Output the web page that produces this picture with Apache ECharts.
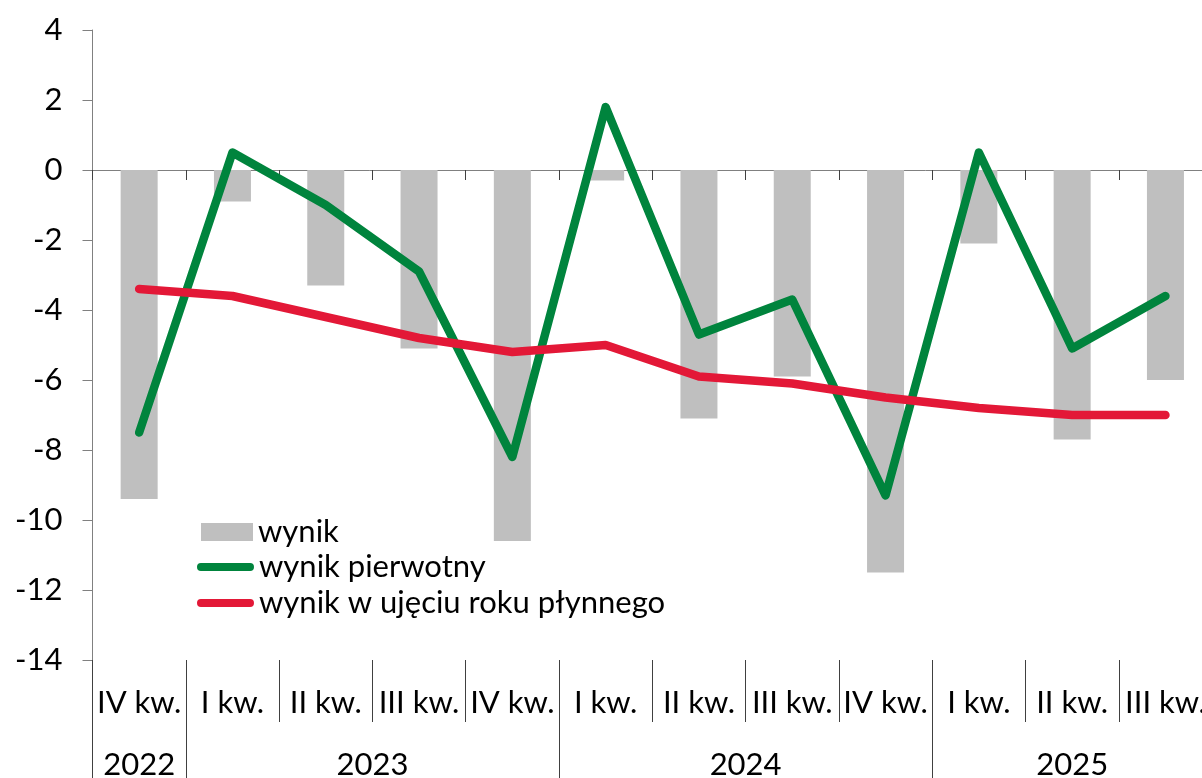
<!DOCTYPE html>
<html>
<head>
<meta charset="utf-8">
<script src="https://cdn.jsdelivr.net/npm/echarts@6/dist/echarts.min.js"></script>
<style>
    html, body { margin: 0; padding: 0; background: #fff; }
    #chart-1 { width: 1202px; height: 778px; }
</style>
</head>
<body>
<div id="chart-1"></div>
<script>
// kwartały i lata
var quarters = ['IV kw.', 'I kw.', 'II kw.', 'III kw.', 'IV kw.', 'I kw.', 'II kw.', 'III kw.', 'IV kw.', 'I kw.', 'II kw.', 'III kw.']
var years = ['2022', '2023', '2024', '2025']
var quartersPerYear = [1, 4, 4, 3]

// dane
var wynik = [-9.4, -0.9, -3.3, -5.1, -10.6, -0.3, -7.1, -5.9, -11.5, -2.1, -7.7, -6.0]
var wynikPierwotny = [-7.5, 0.5, -1.0, -2.9, -8.2, 1.8, -4.7, -3.7, -9.3, 0.5, -5.1, -3.6]
var wynikRoczny = [-3.4, -3.6, -4.2, -4.8, -5.2, -5.0, -5.9, -6.1, -6.5, -6.8, -7.0, -7.0]

var yTicks = [-14, -12, -10, -8, -6, -4, -2, 0, 2, 4]

var font = 'Lato'
var fontSize = 31
var axisGray = '#808080'
var green = '#00843D'
var red = '#E31837'
// zaokrąglona kreska do legendy
var lineIcon = 'path://M4,0 H54 A4,4 0 0 1 54,8 H4 A4,4 0 0 1 4,0 Z'

// granice lat i środki etykiet lat
var yearBounds = [0]
var yearCenters = []
var acc = 0
for (var i = 0; i < quartersPerYear.length; i++) {
    yearCenters.push(acc + quartersPerYear[i] / 2)
    acc += quartersPerYear[i]
    yearBounds.push(acc)
}

var gridLeft = 92.5
var gridWidth = 1119.6
var legendText = { fontFamily: font, fontSize: fontSize, color: '#000', lineHeight: 34 }

var myChart1 = echarts.init(document.getElementById('chart-1'))
var option1 = {
    animation: false,
    textStyle: { fontFamily: font },
    grid: [
        { left: gridLeft, width: gridWidth, top: 30, height: 630, outerBoundsMode: 'none' },
        { left: gridLeft, width: gridWidth, top: 659, height: 1, outerBoundsMode: 'none' },
        { left: gridLeft, width: gridWidth, top: 659, height: 1, outerBoundsMode: 'none' }
    ],
    legend: [
        {
            orient: 'vertical',
            left: 196,
            top: 510,
            itemWidth: 52,
            itemHeight: 18,
            textStyle: legendText,
            data: [{ name: 'wynik', icon: 'rect' }]
        },
        {
            orient: 'vertical',
            left: 192,
            top: 545,
            itemWidth: 57,
            itemHeight: 8,
            itemGap: 2,
            textStyle: legendText,
            data: [
                { name: 'wynik pierwotny', icon: lineIcon, itemStyle: { color: green } },
                { name: 'wynik w ujęciu roku płynnego', icon: lineIcon, itemStyle: { color: red } }
            ]
        }
    ],
    xAxis: [
        {
            type: 'category',
            gridIndex: 0,
            data: quarters,
            axisLine: { onZero: true, lineStyle: { color: axisGray, width: 1 } },
            axisTick: { show: true, interval: 0, length: 10, lineStyle: { color: '#404040' } },
            axisLabel: { show: false },
            splitLine: { show: false }
        },
        {
            type: 'category',
            gridIndex: 1,
            position: 'bottom',
            data: quarters,
            axisLine: { show: false },
            axisTick: { show: true, interval: 0, length: 62, lineStyle: { color: '#404040' } },
            axisLabel: { interval: 0, fontFamily: font, fontSize: fontSize, color: '#000', margin: 28, lineHeight: 30 }
        },
        {
            type: 'value',
            gridIndex: 2,
            position: 'bottom',
            min: 0,
            max: quarters.length,
            axisLine: { show: false },
            splitLine: { show: false },
            axisTick: { show: true, customValues: yearBounds, length: 119, lineStyle: { color: '#404040' } },
            axisLabel: {
                customValues: yearCenters,
                fontFamily: font, fontSize: fontSize, color: '#000', margin: 90, lineHeight: 30,
                formatter: function (v) {
                    for (var k = 0; k < yearCenters.length; k++) {
                        if (Math.abs(yearCenters[k] - v) < 1e-6) return years[k]
                    }
                    return ''
                }
            }
        }
    ],
    yAxis: [
        {
            type: 'value',
            gridIndex: 0,
            min: yTicks[0],
            max: yTicks[yTicks.length - 1],
            interval: 2,
            axisLine: { show: true, lineStyle: { color: axisGray } },
            axisTick: { show: true, length: 10, lineStyle: { color: axisGray } },
            axisLabel: { fontFamily: font, fontSize: fontSize, color: '#000', margin: 30 },
            splitLine: { show: false }
        },
        { type: 'value', gridIndex: 1, show: false },
        { type: 'value', gridIndex: 2, show: false }
    ],
    series: [
        {
            name: 'wynik',
            type: 'bar',
            xAxisIndex: 0,
            yAxisIndex: 0,
            barWidth: 37,
            itemStyle: { color: '#BFBFBF' },
            data: wynik
        },
        {
            name: 'wynik pierwotny',
            type: 'line',
            xAxisIndex: 0,
            yAxisIndex: 0,
            symbol: 'none',
            itemStyle: { color: green },
            lineStyle: { color: green, width: 8.5, cap: 'round', join: 'round' },
            data: wynikPierwotny
        },
        {
            name: 'wynik w ujęciu roku płynnego',
            type: 'line',
            xAxisIndex: 0,
            yAxisIndex: 0,
            symbol: 'none',
            itemStyle: { color: red },
            lineStyle: { color: red, width: 8.5, cap: 'round', join: 'round' },
            data: wynikRoczny
        }
    ]
}
myChart1.setOption(option1)
window.addEventListener('resize', function () {
    myChart1.resize()
})
</script>
</body>
</html>
